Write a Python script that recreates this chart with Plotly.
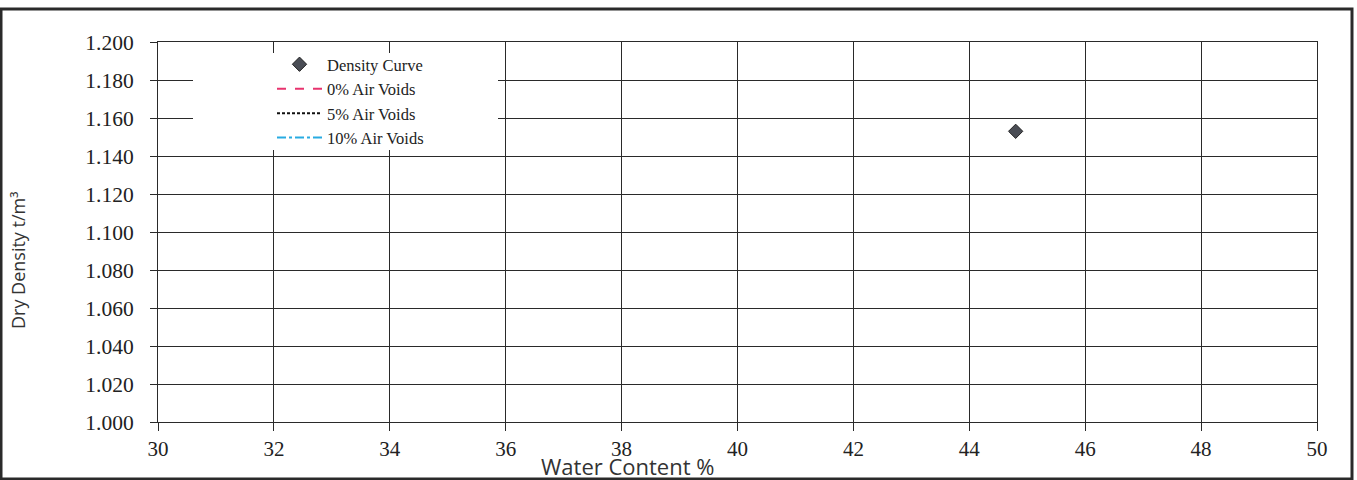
import plotly.graph_objects as go

# Data
density_x = [44.8]
density_y = [1.153]
air0_x, air0_y = [None], [None]
air5_x, air5_y = [None], [None]
air10_x, air10_y = [None], [None]

x_ticks = [30, 32, 34, 36, 38, 40, 42, 44, 46, 48, 50]
y_ticks = [1.000, 1.020, 1.040, 1.060, 1.080, 1.100, 1.120, 1.140, 1.160, 1.180, 1.200]

fig = go.Figure()
fig.add_trace(go.Scatter(x=density_x, y=density_y, mode="markers", name="Density Curve",
                         marker=dict(symbol="diamond", size=11, color="#4a4d55",
                                     line=dict(color="#222222", width=1))))
fig.add_trace(go.Scatter(x=air0_x, y=air0_y, mode="lines", name="0% Air Voids",
                         line=dict(color="#e8336e", dash="dash", width=2)))
fig.add_trace(go.Scatter(x=air5_x, y=air5_y, mode="lines", name="5% Air Voids",
                         line=dict(color="#111111", dash="3px,2px", width=2)))
fig.add_trace(go.Scatter(x=air10_x, y=air10_y, mode="lines", name="10% Air Voids",
                         line=dict(color="#29abe2", dash="dashdot", width=2)))

serif = "Liberation Serif"
sans = "Open Sans"
L, R, T, B = 158, 40, 42, 58
PW, PH = 1357 - L - R, 480 - T - B


def px(xp):
    return (xp - L) / PW


def py(yp):
    return (480 - B - yp) / PH


fig.update_layout(
    width=1357, height=480,
    margin=dict(l=L, r=R, t=T, b=B, autoexpand=False),
    paper_bgcolor="white", plot_bgcolor="white",
    showlegend=True,
    legend=dict(x=px(272), y=py(47), xanchor="left", yanchor="top",
                bgcolor="rgba(255,255,255,0)", font=dict(family=serif, size=16.5, color="#222"),
                itemwidth=45, tracegroupgap=0),
    xaxis=dict(range=[30, 50], tickvals=x_ticks, ticktext=[str(v) for v in x_ticks],
               showgrid=True, gridcolor="#2a2a2a", gridwidth=1,
               ticks="outside", ticklen=8, tickcolor="#2a2a2a",
               showline=True, linecolor="#2a2a2a", mirror=True, zeroline=False,
               tickfont=dict(family=serif, size=21, color="#222")),
    yaxis=dict(range=[1.0, 1.2], tickvals=y_ticks, ticktext=[f"{v:.3f}" for v in y_ticks],
               showgrid=True, gridcolor="#2a2a2a", gridwidth=1,
               ticks="outside", ticklen=7, tickcolor="#2a2a2a", ticklabelstandoff=12,
               showline=True, linecolor="#2a2a2a", mirror=True, zeroline=False,
               tickfont=dict(family=serif, size=21.5, color="#222")),
    annotations=[
        dict(text="Water Content %", xref="paper", yref="paper", x=px(627), y=py(466),
             xanchor="center", yanchor="middle", showarrow=False,
             font=dict(family=sans, size=22, color="#333")),
        dict(text="Dry Density t/m³", xref="paper", yref="paper", x=px(18), y=py(260),
             xanchor="center", yanchor="middle", showarrow=False, textangle=-90,
             font=dict(family=sans, size=18, color="#333")),
    ],
    shapes=[
        dict(type="rect", xref="paper", yref="paper", x0=px(1), x1=px(1352), y0=py(479), y1=py(9),
             line=dict(color="#2a2a2a", width=3), fillcolor="rgba(0,0,0,0)", layer="below"),
        dict(type="rect", xref="paper", yref="paper", x0=px(193), x1=px(498), y0=py(150), y1=py(53),
             line=dict(width=0), fillcolor="white", layer="above"),
    ],
)

fig.write_html("out.html", config={"displayModeBar": False},
               post_script="document.body.style.margin='0px';")
